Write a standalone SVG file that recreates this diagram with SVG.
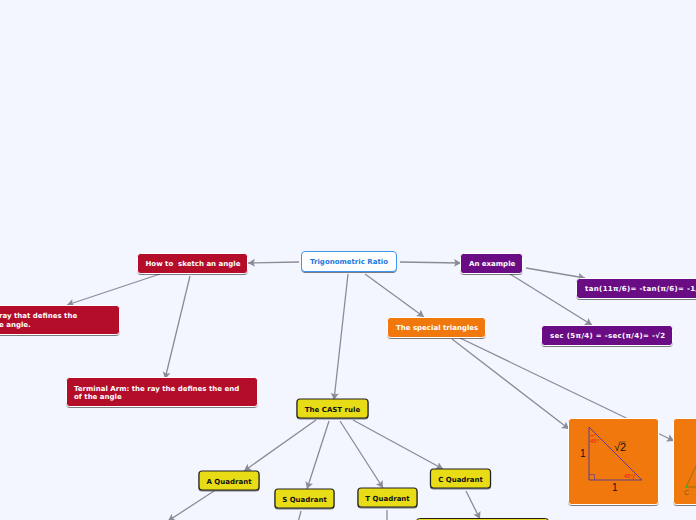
<svg xmlns="http://www.w3.org/2000/svg" width="696" height="520" viewBox="0 0 696 520">
<defs>
<marker id="a" markerUnits="userSpaceOnUse" markerWidth="9" markerHeight="9" refX="7" refY="4" orient="auto"><path d="M0 0L7 4L0 8L1.500 4Z" fill="#8b8b96"/></marker>
<filter id="s" x="-10%" y="-20%" width="120%" height="150%"><feDropShadow dx="0" dy="1" stdDeviation="0.6" flood-color="#000" flood-opacity="0.5"/></filter>
</defs>
<style>
text{font-family:"DejaVu Sans",Verdana,sans-serif;font-size:7px;font-weight:bold;white-space:pre}
.n rect{stroke:#fff;stroke-width:1;filter:url(#s)}
.w{fill:#fff}.k{fill:#111}
.red rect{fill:#b30b2a}.pur rect{fill:#6a0785}.org rect{fill:#f0780c}
.yel rect{fill:#e8dc17;stroke:#222;stroke-width:1.200}
.l line{stroke:#8b8b96;stroke-width:1.300;marker-end:url(#a)}
.m{font-family:"Liberation Sans",Arial,sans-serif;font-weight:normal;font-size:10px;fill:#111}
.d{font-family:"Liberation Sans",Arial,sans-serif;font-weight:normal;font-size:6px;fill:#e8201a}
</style>
<rect width="696" height="520" fill="#f3f6ff"/>
<g id="connectors" class="l">
<line x1="299" y1="262" x2="248" y2="263"/>
<line x1="160" y1="274" x2="67" y2="305"/>
<line x1="190" y1="276" x2="165" y2="379"/>
<line x1="400" y1="262" x2="461" y2="263"/>
<line x1="526" y1="268" x2="585" y2="278"/>
<line x1="510" y1="274" x2="592" y2="325"/>
<line x1="365" y1="274" x2="424" y2="317"/>
<line x1="348" y1="274" x2="334" y2="400"/>
<line x1="452" y1="339" x2="569" y2="429"/>
<line x1="460" y1="338" x2="674" y2="441"/>
<line x1="316" y1="420" x2="244" y2="471"/>
<line x1="329" y1="421" x2="307" y2="489"/>
<line x1="340" y1="421" x2="383" y2="488"/>
<line x1="353" y1="420" x2="443" y2="469"/>
<line x1="214" y1="491" x2="168" y2="521"/>
<line x1="301" y1="511" x2="295" y2="534"/>
<line x1="387" y1="510" x2="387" y2="534"/>
<line x1="466" y1="491" x2="480" y2="519"/>
</g>
<g id="root" class="n"><rect x="301.500" y="251.500" width="95" height="20" rx="3.500" fill="#fff" style="stroke:#3d96ee"/><text x="349" y="264" text-anchor="middle" fill="#1a78dc">Trigonometric Ratio</text></g>
<g id="how" class="n red"><rect x="137.500" y="253.500" width="110" height="20" rx="3"/><text x="145.500" y="266" class="w">How to  sketch an angle</text></g>
<g id="initial" class="n red"><rect x="-10" y="305.500" width="129.500" height="29" rx="3"/><text x="-1" y="318" class="w">ray that defines the</text><text x="-1" y="327" class="w">e angle.</text></g>
<g id="terminal" class="n red"><rect x="66.500" y="377.500" width="191" height="29" rx="3"/><text x="74" y="391" class="w">Terminal Arm: the ray the defines the end</text><text x="74" y="399" class="w">of the angle</text></g>
<g id="example" class="n pur"><rect x="460.500" y="253.500" width="62" height="20" rx="3"/><text x="469" y="266" class="w">An example</text></g>
<g id="tan" class="n pur"><rect x="576.500" y="278.500" width="130" height="20" rx="3"/><text x="585" y="291" class="w" textLength="113">tan(11π/6)= -tan(π/6)= -1/</text></g>
<g id="sec" class="n pur"><rect x="541.500" y="325.500" width="131" height="20" rx="3"/><text x="550" y="338" class="w" textLength="115">sec (5π/4) = -sec(π/4)= -√2</text></g>
<g id="special" class="n org"><rect x="387.500" y="317.500" width="98" height="20" rx="3"/><text x="396" y="330" class="w">The special triangles</text></g>
<g id="cast" class="n yel"><rect x="297" y="399" width="71" height="19" rx="3"/><text x="332.500" y="412" text-anchor="middle" class="k">The CAST rule</text></g>
<g id="aq" class="n yel"><rect x="199" y="471" width="60" height="19" rx="3"/><text x="229" y="483.500" text-anchor="middle" class="k">A Quadrant</text></g>
<g id="sq" class="n yel"><rect x="275" y="489" width="59" height="19" rx="3"/><text x="304.500" y="501.500" text-anchor="middle" class="k">S Quadrant</text></g>
<g id="tq" class="n yel"><rect x="358" y="488" width="59" height="19" rx="3"/><text x="387.500" y="500.500" text-anchor="middle" class="k">T Quadrant</text></g>
<g id="cq" class="n yel"><rect x="430.500" y="469" width="60" height="19" rx="3"/><text x="460.500" y="481.500" text-anchor="middle" class="k">C Quadrant</text></g>
<g id="cbox"><rect x="416.500" y="518.500" width="132" height="20" rx="3" fill="#e8dc17" stroke="#222"/></g>
<g id="img1" class="n org"><rect x="568.500" y="418.500" width="90" height="86" rx="3"/>
<path d="M589 427V480H642Z" fill="none" stroke="#5f3a8c" stroke-width="1"/>
<path d="M589 474.500h5.500V480" fill="none" stroke="#5f3a8c" stroke-width="0.700"/>
<path d="M590 436q4 0 6-2M633 480q0-3 2-6" fill="none" stroke="#e8201a" stroke-width="0.700"/>
<text x="580" y="457" class="m">1</text><text x="612" y="491" class="m">1</text>
<text x="614" y="451" class="m" style="font-size:11px">√2</text>
<path d="M619.500 442h6" stroke="#333" stroke-width="0.600"/>
<text x="590" y="442.500" class="d">45°</text><text x="624" y="478" class="d">45°</text>
</g>
<g id="img2" class="n org"><rect x="673.500" y="418.500" width="40" height="86" rx="3"/>
<path d="M686 487L700 458M686 487H700" fill="none" stroke="#8a6a10" stroke-width="0.800"/>
<circle cx="686.500" cy="486.500" r="1.300" fill="#22c322"/>
<text x="684" y="495" class="m" style="font-size:7px;fill:#6b5a10">C</text>
</g>
</svg>
